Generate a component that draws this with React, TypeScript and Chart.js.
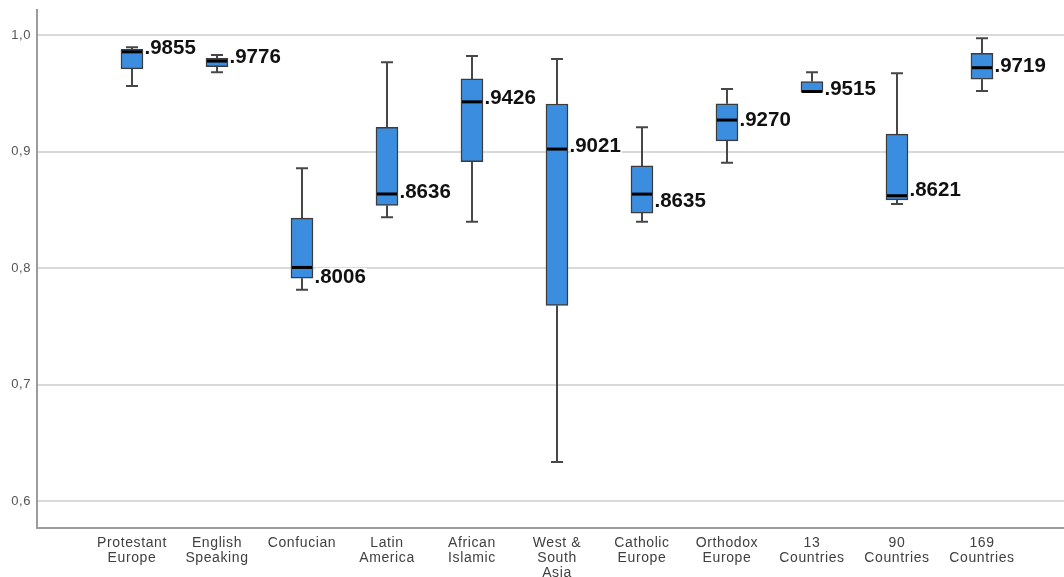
import React, { useEffect, useRef } from 'react';
import { Chart, registerables } from 'chart.js';

Chart.register(...registerables);

// Category labels, one entry per line of the axis label
const categories: string[][] = [
  ['Protestant', 'Europe'],
  ['English', 'Speaking'],
  ['Confucian'],
  ['Latin', 'America'],
  ['African', 'Islamic'],
  ['West &', 'South', 'Asia'],
  ['Catholic', 'Europe'],
  ['Orthodox', 'Europe'],
  ['13', 'Countries'],
  ['90', 'Countries'],
  ['169', 'Countries'],
];

// Five-number summaries per group
const whiskerLow = [0.9563, 0.968, 0.7814, 0.8437, 0.8397, 0.6338, 0.8397, 0.8903, 0.9508, 0.8551, 0.952];
const quartileLow = [0.9709, 0.9728, 0.7914, 0.8537, 0.8914, 0.768, 0.8472, 0.9091, 0.9508, 0.8586, 0.962];
const medians = [0.9855, 0.9776, 0.8006, 0.8636, 0.9426, 0.9021, 0.8635, 0.927, 0.9515, 0.8621, 0.9719];
const quartileHigh = [0.9877, 0.98, 0.8429, 0.9208, 0.9623, 0.9408, 0.8877, 0.9409, 0.96, 0.9149, 0.9843];
const whiskerHigh = [0.9894, 0.9829, 0.8857, 0.9766, 0.982, 0.9794, 0.9209, 0.9537, 0.968, 0.9672, 0.9971];

const yTicks = [0.6, 0.7, 0.8, 0.9, 1.0];

// Vertical nudge (px) of each median label relative to its median line
const labelShift = [-4, -4, 9.5, -2, -3.5, -3, 7, 0, -2.5, -5.5, -1];

const BOX_WIDTH = 22;
const CAP_HALF = 6;
const FONT = '"Liberation Sans", Arial, sans-serif';

const formatMedian = (v: number) => v.toFixed(4).slice(1);

const boxPlotMarks = {
  id: 'boxPlotMarks',
  beforeDraw(chart: any) {
    chart.ctx.letterSpacing = '0.6px';
  },
  beforeDatasetsDraw(chart: any) {
    const ctx = chart.ctx as CanvasRenderingContext2D;
    (ctx as any).letterSpacing = '0px';
    const xs = chart.scales.x;
    const ys = chart.scales.y;
    ctx.save();
    ctx.strokeStyle = '#474747';
    ctx.lineWidth = 2;
    categories.forEach((_, i) => {
      const x = Math.round(xs.getPixelForValue(i));
      const yHi = ys.getPixelForValue(whiskerHigh[i]);
      const yQ3 = ys.getPixelForValue(quartileHigh[i]);
      const yQ1 = ys.getPixelForValue(quartileLow[i]);
      const yLo = ys.getPixelForValue(whiskerLow[i]);
      ctx.beginPath();
      if (whiskerHigh[i] > quartileHigh[i]) {
        ctx.moveTo(x, yHi);
        ctx.lineTo(x, yQ3);
        ctx.moveTo(x - CAP_HALF, yHi);
        ctx.lineTo(x + CAP_HALF, yHi);
      }
      if (whiskerLow[i] < quartileLow[i]) {
        ctx.moveTo(x, yQ1);
        ctx.lineTo(x, yLo);
        ctx.moveTo(x - CAP_HALF, yLo);
        ctx.lineTo(x + CAP_HALF, yLo);
      }
      ctx.stroke();
    });
    ctx.restore();
  },
  afterDatasetsDraw(chart: any) {
    const ctx = chart.ctx as CanvasRenderingContext2D;
    const xs = chart.scales.x;
    const ys = chart.scales.y;
    ctx.save();
    (ctx as any).letterSpacing = '0px';
    categories.forEach((_, i) => {
      const x = Math.round(xs.getPixelForValue(i));
      const yMed = ys.getPixelForValue(medians[i]);
      // median line
      ctx.strokeStyle = '#000000';
      ctx.lineWidth = 3;
      ctx.beginPath();
      ctx.moveTo(x - BOX_WIDTH / 2 + 1, yMed);
      ctx.lineTo(x + BOX_WIDTH / 2 - 1, yMed);
      ctx.stroke();

      // median value label on a white plate
      const text = formatMedian(medians[i]);
      ctx.font = `bold 20.5px ${FONT}`;
      ctx.textBaseline = 'middle';
      ctx.textAlign = 'left';
      const tx = x + BOX_WIDTH / 2 + 1.5;
      const ty = yMed + labelShift[i];
      const w = ctx.measureText(text).width;
      ctx.fillStyle = '#ffffff';
      ctx.fillRect(tx + 1, ty - 9, w, 18);
      ctx.fillStyle = '#111111';
      ctx.fillText(text, tx, ty);
    });
    ctx.restore();
  },
};

export default function App() {
  const canvasRef = useRef<HTMLCanvasElement | null>(null);

  useEffect(() => {
    const canvas = canvasRef.current;
    if (!canvas) return;

    const chart = new Chart(canvas, {
      type: 'bar',
      data: {
        datasets: [
          {
            data: categories.map((_, i) => ({ x: i, y: [quartileLow[i], quartileHigh[i]] })) as any,
            backgroundColor: '#3a8ddf',
            borderColor: '#3c3c3c',
            borderWidth: 1.5,
            borderSkipped: false,
            barThickness: BOX_WIDTH,
          },
        ],
      },
      options: {
        animation: false,
        responsive: false,
        devicePixelRatio: 1,
        events: [],
        layout: { padding: { top: 10, left: 0, right: 0, bottom: 0 } },
        plugins: {
          legend: { display: false },
          tooltip: { enabled: false },
        },
        scales: {
          x: {
            type: 'linear',
            offset: false,
            min: -1.1176,
            max: 10.965,
            grid: { display: false, drawTicks: false, offset: false },
            border: { display: true, color: '#9c9c9c', width: 2 },
            afterBuildTicks: (scale: any) => {
              scale.ticks = categories.map((_, i) => ({ value: i }));
            },
            afterFit: (scale: any) => {
              scale.height = 49;
              scale.paddingLeft = 0;
              scale.paddingRight = 0;
            },
            ticks: {
              autoSkip: false,
              maxRotation: 0,
              minRotation: 0,
              padding: 8,
              color: '#404040',
              font: { family: FONT, size: 14, lineHeight: 1.05 },
              callback: (value: any) => categories[Math.round(Number(value))] ?? '',
            },
          },
          y: {
            type: 'linear',
            min: 0.5771,
            max: 1.0214,
            grid: { color: '#d9d9d9', lineWidth: 2, drawTicks: false },
            border: { display: true, color: '#9c9c9c', width: 2 },
            afterBuildTicks: (scale: any) => {
              scale.ticks = yTicks.map((v) => ({ value: v }));
            },
            afterFit: (scale: any) => {
              scale.width = 37;
              scale.paddingTop = 0;
              scale.paddingBottom = 0;
            },
            ticks: {
              padding: 6,
              color: '#555555',
              font: { family: FONT, size: 13 },
              callback: (value: any) => Number(value).toFixed(1).replace('.', ','),
            },
          },
        },
      },
      plugins: [boxPlotMarks],
    } as any);

    return () => {
      chart.destroy();
    };
  }, []);

  return (
    <div style={{ position: 'fixed', left: 0, top: 0, width: 1064, height: 577, background: '#ffffff' }}>
      <canvas ref={canvasRef} width={1064} height={577} style={{ display: 'block' }} />
    </div>
  );
}
